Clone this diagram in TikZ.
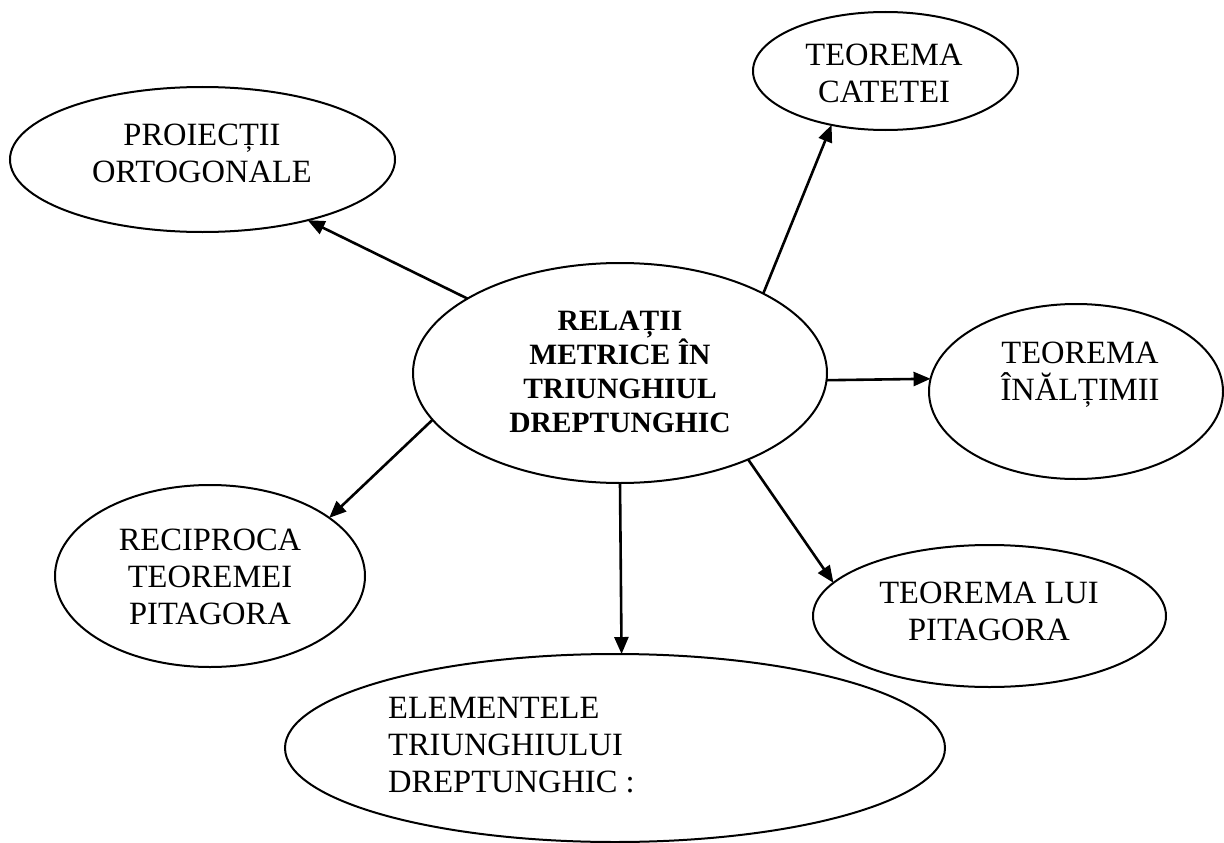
\documentclass[tikz,border=0pt]{standalone}
\usepackage{fontspec}
\setmainfont{Liberation Serif}
\usetikzlibrary{shapes.geometric,arrows.meta}
\begin{document}
\begin{tikzpicture}[x=1pt,y=-1pt,
  oval/.style={draw, ellipse, line width=2pt, inner sep=0pt, outer sep=0pt},
  lbl/.style={align=center, font=\fontsize{32.5}{37}\selectfont, inner sep=0pt},
  blbl/.style={align=center, font=\fontsize{29.5}{34}\selectfont\bfseries, inner sep=0pt},
  conn/.style={line width=2.6pt, -{Triangle[length=17pt,width=14pt]}}]
\useasboundingbox (0,0) rectangle (1224,843);
% ellipses
\node[oval, minimum width=414pt, minimum height=220pt] (c) at (620,373) {};
\node[oval, minimum width=385pt, minimum height=145pt] (proj) at (202.5,159.5) {};
\node[oval, minimum width=265pt, minimum height=118pt] (cat) at (885.5,71) {};
\node[oval, minimum width=294pt, minimum height=175pt] (ina) at (1076,391.5) {};
\node[oval, minimum width=310pt, minimum height=182pt] (rec) at (210,576) {};
\node[oval, minimum width=353pt, minimum height=142pt] (pit) at (989.5,616) {};
\node[oval, minimum width=660pt, minimum height=188pt] (elem) at (615,748) {};
% texts
\node[blbl] (cT) at (620,372) {RELAȚII\\METRICE ÎN\\TRIUNGHIUL\\DREPTUNGHIC};
\node[lbl] (projT) at (202,153) {PROIECȚII\\ORTOGONALE};
\node[lbl] (catT) at (884,73) {TEOREMA\\CATETEI};
\node[lbl] (inaT) at (1080,375) {TEOREMA\\ÎNĂLȚIMII};
\node[lbl] (recT) at (210,577) {RECIPROCA\\TEOREMEI\\PITAGORA};
\node[lbl] (pitT) at (989,611) {TEOREMA LUI\\PITAGORA};
\node[lbl, align=left, anchor=west] (elemT) at (388,745) {ELEMENTELE\\TRIUNGHIULUI\\DREPTUNGHIC :};
% connectors
\draw[conn] (c.154.5) -- (proj.-30.6);
\draw[conn] (c.29.8) -- (cat.225.3);
\draw[conn] (c.-2) -- (ina.175.7);
\draw[conn] (c.194.3) -- (rec.26);
\draw[conn] (c.270) -- (elem.86);
\draw[conn] (c.-34.3) -- (pit.168.7);
\end{tikzpicture}
\end{document}
